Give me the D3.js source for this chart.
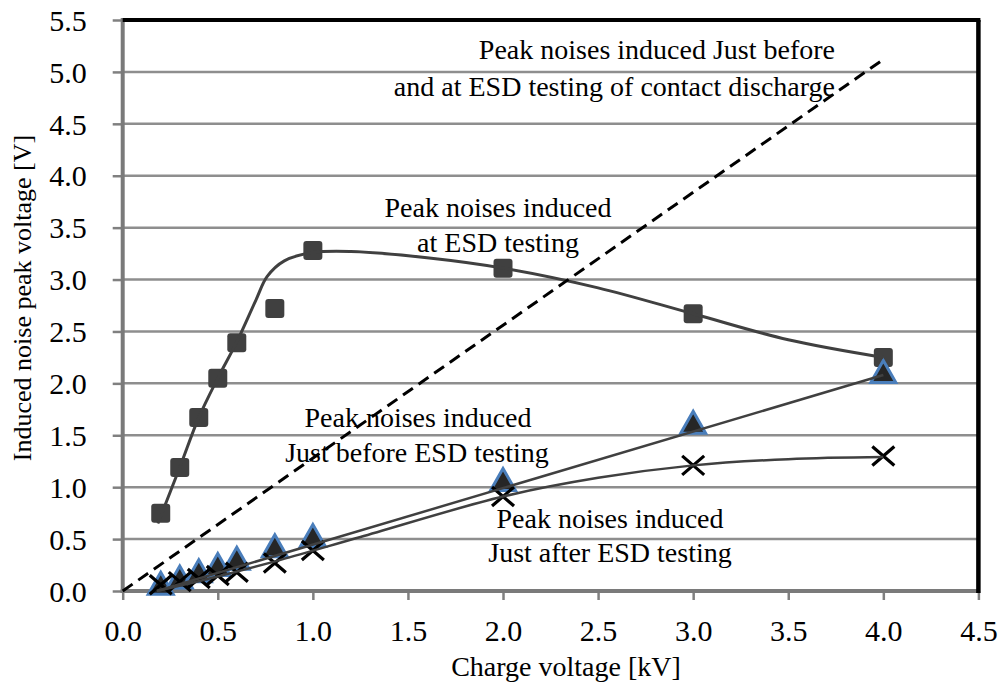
<!DOCTYPE html>
<html>
<head>
<meta charset="utf-8">
<script src="https://cdn.jsdelivr.net/npm/d3@7"></script>
<style>
  html, body { margin: 0; padding: 0; background: #fff; }
  svg text { font-family: "Liberation Serif", "Times New Roman", Times, "DejaVu Serif", serif !important; }
</style>
</head>
<body>
<div id="chart"></div>
<script>
// charge voltage [kV]
const xs = [0.2, 0.3, 0.4, 0.5, 0.6, 0.8, 1.0, 2.0, 3.0, 4.0];
// peak noise at ESD testing (squares)
const atEsd = [0.75, 1.19, 1.67, 2.05, 2.39, 2.72, 3.28, 3.11, 2.67, 2.25];
// peak noise just before ESD testing (triangles)
const justBefore = [0.07, 0.13, 0.19, 0.25, 0.31, 0.43, 0.53, 1.07, 1.62, 2.11];
// peak noise just after ESD testing (crosses)
const justAfter = [0.06, 0.09, 0.12, 0.15, 0.18, 0.27, 0.39, 0.91, 1.21, 1.30];

// fitted curves
const atEsdFit = [[0.185, 0.65], [0.3, 1.19], [0.4, 1.67], [0.5, 2.05], [0.6, 2.40], [0.7, 2.80],
  [0.76, 3.03], [0.85, 3.18], [1.0, 3.26], [1.2, 3.27], [1.6, 3.21], [2.0, 3.11], [2.5, 2.92],
  [3.0, 2.67], [3.5, 2.42], [4.0, 2.25]];
const beforeFit = [[0.18, 0.0], [4.0, 2.08]];
const afterFit = [[0.18, 0.0], [0.5, 0.14], [0.83, 0.30], [1.25, 0.52], [2.0, 0.91], [2.5, 1.09],
  [3.0, 1.21], [3.5, 1.27], [4.0, 1.29]];
// dashed line: just before and at ESD testing of contact discharge
const contactLine = [[0, 0], [4.0, 5.12]];

const xTicks = [0, 0.5, 1.0, 1.5, 2.0, 2.5, 3.0, 3.5, 4.0, 4.5];
const yTicks = [0, 0.5, 1.0, 1.5, 2.0, 2.5, 3.0, 3.5, 4.0, 4.5, 5.0, 5.5];

const width = 1000, height = 690;

const x = d3.scaleLinear().domain([0, 4.5]).range([122.7, 978.4]);
const y = d3.scaleLinear().domain([0, 5.5]).range([591, 20]);

const svg = d3.create("svg")
    .attr("width", width)
    .attr("height", height)
    .attr("viewBox", [0, 0, width, height])
    .attr("font-family", "Liberation Serif");

// horizontal grid
svg.append("g")
    .attr("stroke", "#8e8e8e")
    .attr("stroke-width", 2.5)
    .selectAll("line")
    .data(yTicks.filter(d => d > 0 && d < 5.5))
    .join("line")
    .attr("x1", x(0)).attr("x2", x(4.5))
    .attr("y1", d => y(d)).attr("y2", d => y(d));

// axes
const yAxis = svg.append("g")
    .attr("transform", `translate(${x(0)},0)`)
    .call(d3.axisLeft(y).tickValues(yTicks).tickFormat(d3.format(".1f")).tickSize(10).tickPadding(26));
const xAxis = svg.append("g")
    .attr("transform", `translate(0,${y(0)})`)
    .call(d3.axisBottom(x).tickValues(xTicks).tickFormat(d3.format(".1f")).tickSize(9).tickPadding(20));

for (const ax of [yAxis, xAxis]) {
  ax.attr("font-family", null).attr("font-size", null);
  ax.select(".domain").remove();
  ax.selectAll(".tick line").attr("stroke", "#808080").attr("stroke-width", 2.5);
  ax.selectAll(".tick text")
      .attr("fill", "#000")
      .attr("font-size", 30);
}
yAxis.selectAll(".tick text").attr("dy", "0.34em");
xAxis.selectAll(".tick text").attr("dy", "0.71em");

// frame: gray axis lines left/bottom, black border top/right
svg.append("line")
    .attr("x1", x(0)).attr("x2", x(0)).attr("y1", y(5.5) - 2).attr("y2", y(0) + 2)
    .attr("stroke", "#7a7a7a").attr("stroke-width", 4);
svg.append("line")
    .attr("x1", x(0) - 2).attr("x2", x(4.5)).attr("y1", y(0)).attr("y2", y(0))
    .attr("stroke", "#7a7a7a").attr("stroke-width", 4);
svg.append("line")
    .attr("x1", x(0)).attr("x2", x(4.5) + 2).attr("y1", y(5.5)).attr("y2", y(5.5))
    .attr("stroke", "#000").attr("stroke-width", 4);
svg.append("line")
    .attr("x1", x(4.5)).attr("x2", x(4.5)).attr("y1", y(5.5)).attr("y2", y(0) + 2)
    .attr("stroke", "#000").attr("stroke-width", 4.5);

const line = d3.line().x(d => x(d[0])).y(d => y(d[1]));

// markers
svg.append("g")
    .selectAll("rect")
    .data(xs.map((v, i) => [v, atEsd[i]]))
    .join("rect")
    .attr("x", d => x(d[0]) - 9.5)
    .attr("y", d => y(d[1]) - 9.5)
    .attr("width", 19).attr("height", 19)
    .attr("rx", 3)
    .attr("fill", "#404040");

svg.append("g")
    .selectAll("path")
    .data(xs.map((v, i) => [v, justBefore[i]]))
    .join("path")
    .attr("transform", d => `translate(${x(d[0])},${y(d[1])})`)
    .attr("d", "M0,-11.5L12.5,10.5L-12.5,10.5Z")
    .attr("fill", "#262626")
    .attr("stroke", "#4a7ebb")
    .attr("stroke-width", 3)
    .attr("stroke-linejoin", "miter");

svg.append("g")
    .attr("stroke", "#000")
    .attr("stroke-width", 3.2)
    .selectAll("path")
    .data(xs.map((v, i) => [v, justAfter[i]]))
    .join("path")
    .attr("transform", d => `translate(${x(d[0])},${y(d[1])})`)
    .attr("d", "M-11,-9.5L11,9.5M-11,9.5L11,-9.5");

// fitted lines
svg.append("path")
    .datum(atEsdFit)
    .attr("fill", "none")
    .attr("stroke", "#404040")
    .attr("stroke-width", 3)
    .attr("d", line.curve(d3.curveCatmullRom.alpha(0.5)));
svg.append("path")
    .datum(beforeFit)
    .attr("fill", "none")
    .attr("stroke", "#404040")
    .attr("stroke-width", 2.5)
    .attr("d", d3.line().x(d => x(d[0])).y(d => y(d[1])));
svg.append("path")
    .datum(afterFit)
    .attr("fill", "none")
    .attr("stroke", "#404040")
    .attr("stroke-width", 2.5)
    .attr("d", d3.line().x(d => x(d[0])).y(d => y(d[1])).curve(d3.curveCatmullRom.alpha(0.5)));

// annotations
const notes = [
  { text: "Peak noises induced Just before", x: 835, y: 59, anchor: "end" },
  { text: "and at ESD testing of contact discharge", x: 835, y: 96, anchor: "end" },
  { text: "Peak noises induced", x: 498, y: 217, anchor: "middle" },
  { text: "at ESD testing", x: 498, y: 252, anchor: "middle" },
  { text: "Peak noises induced", x: 418, y: 427, anchor: "middle" },
  { text: "Just before ESD testing", x: 417, y: 462, anchor: "middle" },
  { text: "Peak noises induced", x: 610, y: 528, anchor: "middle" },
  { text: "Just after ESD testing", x: 610, y: 562, anchor: "middle" }
];
svg.append("g")
    .attr("font-size", 28)
    .selectAll("text")
    .data(notes)
    .join("text")
    .attr("x", d => d.x)
    .attr("y", d => d.y)
    .attr("text-anchor", d => d.anchor)
    .text(d => d.text);

// dashed line on top
svg.append("path")
    .datum(contactLine)
    .attr("fill", "none")
    .attr("stroke", "#000")
    .attr("stroke-width", 3)
    .attr("stroke-dasharray", "12,7")
    .attr("d", d3.line().x(d => x(d[0])).y(d => y(d[1])));

// axis titles
svg.append("text")
    .attr("x", 566)
    .attr("y", 676)
    .attr("text-anchor", "middle")
    .attr("font-size", 28)
    .text("Charge voltage [kV]");
svg.append("text")
    .attr("transform", "translate(31,298) rotate(-90)")
    .attr("text-anchor", "middle")
    .attr("font-size", 26)
    .text("Induced noise peak voltage [V]");

d3.select("#chart").append(() => svg.node());
</script>
</body>
</html>
